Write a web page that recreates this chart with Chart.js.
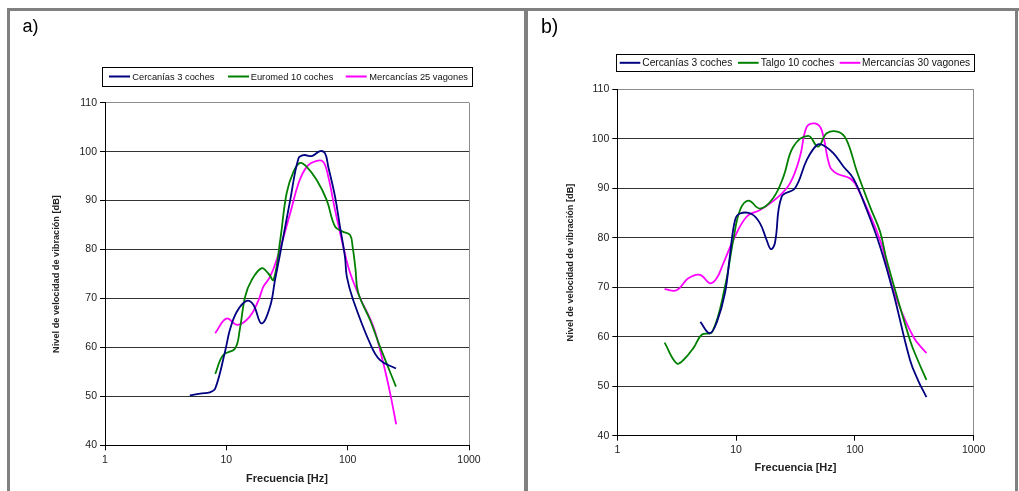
<!DOCTYPE html>
<html>
<head>
<meta charset="utf-8">
<script src="https://cdn.jsdelivr.net/npm/chart.js@4.4.0/dist/chart.umd.min.js"></script>
<style>
  html, body { margin: 0; padding: 0; background: #fff; }
  body { width: 1019px; height: 491px; position: relative; overflow: hidden; }
  .bar { position: absolute; background: #808080; }
  canvas { position: absolute; top: 0; }
</style>
</head>
<body>
<div class="bar" style="left:7px;top:8px;width:1012px;height:3px"></div>
<div class="bar" style="left:7px;top:8px;width:3px;height:483px"></div>
<div class="bar" style="left:524px;top:8px;width:4px;height:483px"></div>
<div class="bar" style="left:1015px;top:8px;width:3px;height:483px"></div>
<canvas id="ca" width="525" height="491" style="left:0px"></canvas>
<canvas id="cb" width="494" height="491" style="left:525px"></canvas>
<script>
// ---------- DATA ----------
const xTicks = [1, 10, 100, 1000];
const yMin = 40, yMax = 110, yStep = 10;

// Panel a
const labelsA = ['Cercanías 3 coches', 'Euromed 10 coches', 'Mercancías 25 vagones'];
const aCercFreq  = [5, 6.3, 7.3, 8.1, 9.75, 10.7, 12.2, 14.7, 16.7, 19.5, 22.9, 25.2, 27.8, 33.6, 39.3, 43.3, 50.7, 59.3, 65, 69.2, 78.7, 86.4, 95, 98.5, 111, 153, 185, 250];
const aCercLevel = [50.2, 50.6, 50.8, 51.6, 59.1, 63.6, 67.3, 69.5, 68.7, 64.9, 68.3, 73.8, 79.2, 90.1, 98.6, 99.3, 99.1, 100.1, 99.7, 96.9, 90.8, 84.7, 78.5, 74.4, 69.7, 60.8, 57.4, 55.7];
const aEuroFreq  = [8.1, 9.4, 11.8, 12.9, 14.3, 16.2, 19.6, 22.2, 24.5, 27.8, 31.4, 35.8, 40.5, 46, 55.6, 67.2, 78.7, 92, 104.5, 110, 116, 122, 153, 185, 250];
const aEuroLevel = [54.6, 58.4, 59.8, 63.6, 70.4, 73.8, 76.2, 75.1, 73.8, 81.9, 91.5, 95.9, 97.7, 96.9, 94.2, 90.1, 84.7, 83.6, 83.0, 80.5, 76.0, 71.2, 65.6, 60.1, 52.0];
const aMercFreq  = [8.1, 10, 12.4, 15.6, 18.4, 20.2, 22.9, 26, 33.6, 39.3, 46, 55.6, 63, 69.2, 78.7, 92, 104.5, 126, 163, 197, 224, 251];
const aMercLevel = [62.9, 65.9, 64.6, 66.3, 69.6, 72.4, 74.4, 77.9, 87.4, 93.5, 96.9, 98.1, 97.9, 94.9, 88.1, 80.6, 75.3, 70.2, 64.2, 56.7, 50.6, 44.3];

// Panel b
const labelsB = ['Cercanías 3 coches', 'Talgo 10 coches', 'Mercancías 30 vagones'];
const bCercFreq  = [5.0, 6.0, 6.9, 8.06, 8.85, 9.8, 10.8, 13.5, 15.9, 18.1, 19.6, 21.2, 24.2, 31.3, 39.3, 47.7, 54.1, 65.8, 80, 97, 126, 163, 211, 291, 340, 400];
const bCercLevel = [63.0, 60.7, 63.0, 68.8, 76.2, 83.6, 84.9, 84.8, 82.9, 79.5, 77.7, 78.9, 88.3, 90.0, 95.7, 98.7, 98.7, 97.1, 94.4, 92.0, 85.6, 78.2, 68.8, 55.3, 51.2, 47.8];
const bTalgFreq  = [2.5, 3.16, 3.6, 4.37, 5.13, 6.3, 8.06, 9.46, 10.8, 12.7, 15.9, 20.5, 25, 30.3, 40.5, 49, 57.9, 72.5, 85, 104, 134, 163, 185, 291, 342, 400];
const bTalgLevel = [58.8, 54.6, 55.3, 57.7, 60.4, 61.0, 70.1, 79.5, 85.6, 87.5, 85.9, 88.0, 92.3, 98.4, 100.6, 98.4, 101.1, 101.4, 99.8, 93.4, 86.3, 81.2, 75.5, 59.3, 55.0, 51.3];
const bMercFreq  = [2.5, 3.16, 3.96, 4.97, 6.04, 6.86, 7.8, 9.46, 12.3, 15.9, 22, 28.4, 34.5, 39.3, 46.1, 52.4, 61.6, 70.3, 91, 104, 163, 211, 310, 400];
const bMercLevel = [69.6, 69.4, 71.8, 72.5, 70.8, 71.8, 74.8, 79.5, 84.3, 85.6, 88.0, 91.0, 96.4, 102.4, 103.1, 101.8, 94.4, 93.0, 92.0, 90.3, 79.5, 69.4, 60.0, 56.7];

const seriesColors = ['#000080', '#008000', '#FF00FF'];
const xTitle = 'Frecuencia [Hz]';
const yTitle = 'Nivel de velocidad de vibración [dB]';
// ---------- END DATA ----------

const FAMILY = '"Liberation Sans", Arial, Helvetica, sans-serif';

function pts(f, v) { return f.map((x, i) => ({ x: x, y: v[i] })); }

function makeDatasets(labels, pairs) {
  return pairs.map((p, i) => ({
    label: labels[i],
    data: pts(p[0], p[1]),
    showLine: true,
    borderColor: seriesColors[i],
    backgroundColor: seriesColors[i],
    borderWidth: 1.8,
    pointRadius: 0,
    tension: 0.4,
    fill: false
  }));
}

const boxLegend = {
  id: 'boxLegend',
  afterDraw(chart, args, o) {
    const ctx = chart.ctx;
    ctx.save();
    ctx.strokeStyle = '#000';
    ctx.lineWidth = 1;
    ctx.strokeRect(o.x + 0.5, o.y + 0.5, o.w, o.h);
    ctx.font = o.fontSize + 'px ' + FAMILY;
    ctx.textBaseline = 'middle';
    ctx.textAlign = 'left';
    chart.data.datasets.forEach((ds, i) => {
      const it = o.items[i];
      ctx.strokeStyle = ds.borderColor;
      ctx.lineWidth = 2;
      ctx.beginPath();
      ctx.moveTo(it[0], o.cy);
      ctx.lineTo(it[0] + o.sample, o.cy);
      ctx.stroke();
      ctx.fillStyle = '#111';
      ctx.fillText(ds.label, it[1], o.cy + 0.5);
    });
    ctx.fillStyle = '#000';
    ctx.font = o.panelSize + 'px ' + FAMILY;
    ctx.textBaseline = 'alphabetic';
    ctx.fillText(o.panel, o.px, o.py);
    ctx.restore();
  }
};

function makeOptions(cfg) {
  return {
    responsive: false,
    animation: false,
    devicePixelRatio: 1,
    layout: { padding: { left: cfg.pl, right: cfg.pr, top: cfg.pt, bottom: cfg.pb } },
    plugins: { legend: { display: false }, tooltip: { enabled: false }, boxLegend: cfg.legend },
    scales: {
      x: {
        type: 'logarithmic',
        min: xTicks[0], max: xTicks[xTicks.length - 1],
        afterBuildTicks: s => { s.ticks = xTicks.map(v => ({ value: v })); },
        afterFit: s => { s.height = cfg.hx; },
        ticks: {
          callback: v => String(v),
          font: { family: FAMILY, size: 10.5 },
          color: '#222', padding: 3.5, autoSkip: false, maxRotation: 0
        },
        grid: {
          color: c => (c.tick && c.tick.value === xTicks[xTicks.length - 1]) ? '#8c8c8c' : 'rgba(0,0,0,0)',
          tickColor: '#000', tickLength: 5, lineWidth: 1
        },
        border: { display: true, color: '#000', width: 1 },
        title: {
          display: true, text: xTitle, color: '#222',
          font: { family: FAMILY, size: 11, weight: 'bold' },
          padding: { top: 0, bottom: 0 }
        }
      },
      y: {
        min: yMin, max: yMax,
        afterFit: s => { s.width = cfg.wy; },
        ticks: {
          stepSize: yStep,
          font: { family: FAMILY, size: 10.5 },
          color: '#222', padding: 3
        },
        grid: {
          color: c => (c.tick && c.tick.value === yMax) ? '#8c8c8c' : '#333',
          tickColor: '#000', tickLength: 5, lineWidth: 1
        },
        border: { display: true, color: '#000', width: 1 },
        title: {
          display: true, text: yTitle, color: '#222',
          font: { family: FAMILY, size: 9.2, weight: 'bold' },
          padding: { top: cfg.ytp, bottom: 0 }
        }
      }
    }
  };
}

new Chart(document.getElementById('ca'), {
  type: 'scatter',
  data: { datasets: makeDatasets(labelsA, [[aCercFreq, aCercLevel], [aEuroFreq, aEuroLevel], [aMercFreq, aMercLevel]]) },
  options: makeOptions({
    pl: 50, pr: 56, pt: 102.7, pb: 5.7, hx: 40, wy: 55, ytp: 0.5,
    legend: {
      x: 102, y: 67, w: 370, h: 19, cy: 76.5, sample: 21, fontSize: 9.3,
      items: [[109, 132.3], [228, 250.7], [345.7, 369.3]],
      panel: 'a)', panelSize: 18, px: 22.5, py: 31.5
    }
  }),
  plugins: [boxLegend]
});

new Chart(document.getElementById('cb'), {
  type: 'scatter',
  data: { datasets: makeDatasets(labelsB, [[bCercFreq, bCercLevel], [bTalgFreq, bTalgLevel], [bMercFreq, bMercLevel]]) },
  options: makeOptions({
    pl: 37.3, pr: 45.3, pt: 89.3, pb: 16.7, hx: 38.6, wy: 55, ytp: 2.2,
    legend: {
      x: 91, y: 54, w: 358, h: 17, cy: 62.8, sample: 20.6, fontSize: 10.2,
      items: [[94.7, 117.3], [213, 235.7], [314.7, 337]],
      panel: 'b)', panelSize: 19.5, px: 16, py: 32.5
    }
  }),
  plugins: [boxLegend]
});
</script>
</body>
</html>
